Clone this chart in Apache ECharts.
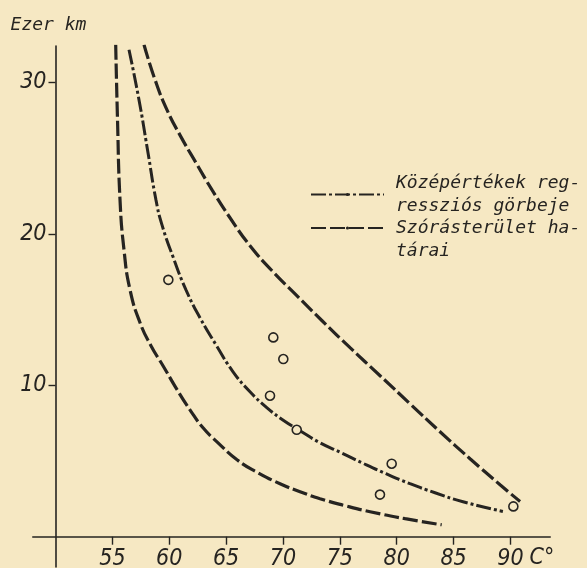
<!DOCTYPE html>
<html>
<head>
<meta charset="utf-8">
<script src="https://cdn.jsdelivr.net/npm/echarts@6/dist/echarts.min.js"></script>
<style>
  html, body { margin: 0; padding: 0; background: #f6e8c3; }
  #chart { width: 587px; height: 568px; }
</style>
</head>
<body>
<div id="chart"></div>
<script>
// ---- data (x: °C, y: thousand km) ----
const xTicks = [55, 60, 65, 70, 75, 80, 85, 90];
const yTicks = [10, 20, 30];

const lowerBound = [
  [55.29, 32.48], [55.45, 27.52], [55.67, 22.24], [56.02, 18.94], [56.55, 16.30],
  [57.43, 14.13], [58.39, 12.61], [59.45, 11.29], [60.59, 9.83], [61.82, 8.38],
  [62.97, 7.19], [64.29, 6.20], [65.96, 5.08], [67.81, 4.22], [69.74, 3.50],
  [71.50, 2.97], [73.26, 2.51], [75.46, 2.05], [77.66, 1.65], [80.74, 1.19],
  [83.96, 0.79]
];

const meanCurve = [
  [56.46, 32.15], [57.34, 28.84], [58.09, 25.54], [58.83, 22.24], [59.36, 20.59],
  [60.33, 18.48], [61.47, 16.30], [62.70, 14.46], [64.11, 12.67], [65.61, 10.89],
  [67.10, 9.57], [68.60, 8.51], [70.09, 7.66], [71.50, 7.00], [73.26, 6.20],
  [75.02, 5.58], [76.95, 4.88], [79.06, 4.16], [81.17, 3.50], [83.37, 2.90],
  [85.83, 2.31], [89.34, 1.67]
];

const upperBound = [
  [57.78, 32.48], [58.75, 30.17], [59.80, 28.18], [61.03, 26.40], [62.35, 24.69],
  [63.76, 22.90], [65.34, 21.06], [67.10, 19.21], [69.04, 17.56], [71.15, 15.97],
  [73.44, 14.26], [75.90, 12.48], [78.54, 10.63], [81.17, 8.78], [83.81, 6.93],
  [86.45, 5.15], [89.09, 3.43], [90.85, 2.33]
];

const observations = [
  [56.40, 32.48], [59.92, 16.96], [69.15, 13.16], [70.03, 11.73], [68.86, 9.31],
  [71.21, 7.06], [79.56, 4.82], [78.53, 2.78], [90.26, 2.0]
];

const meanName = 'Középértékek reg-\nressziós görbeje';
const boundName = 'Szórásterület ha-\ntárai';

// ---- styling ----
const ink = '#262421';
const paper = '#f6e8c3';
const digitFont = "'Liberation Sans Narrow', 'DejaVu Sans Condensed', 'DejaVu Sans', sans-serif";
const textFont = "'DejaVu Sans Mono', monospace";
const boundDash = [15, 4];
const meanDash = [15, 3, 3, 3];

const chart = echarts.init(document.getElementById('chart'), null, { renderer: 'canvas' });

chart.setOption({
  backgroundColor: paper,
  animation: false,
  grid: { left: 32.8, right: 36.8, top: 46, bottom: 1, containLabel: false, outerBoundsMode: 'none' },
  legend: {
    orient: 'vertical',
    left: 310,
    top: 171.5,
    padding: 0,
    itemWidth: 73,
    itemHeight: 4,
    itemGap: -24,
    selectedMode: false,
    inactiveColor: ink,
    formatter: function (name) { return name === boundName ? '\n' + name : name; },
    textStyle: {
      color: ink, fontFamily: textFont, fontStyle: 'italic', fontSize: 18,
      lineHeight: 23, padding: [0, 0, 0, 7]
    },
    data: [meanName, boundName]
  },
  xAxis: {
    type: 'value',
    min: 48,
    max: 93.5,
    name: 'C°',
    nameLocation: 'end',
    nameGap: 0,
    nameTextStyle: {
      color: ink, fontFamily: digitFont, fontStyle: 'italic', fontSize: 23,
      align: 'right', verticalAlign: 'top', padding: [10, 0, 0, 0]
    },
    axisLine: { onZero: true, lineStyle: { color: ink, width: 1.6 } },
    axisTick: { show: true, customValues: xTicks, length: 8, inside: false,
      lineStyle: { color: ink, width: 1.4 } },
    axisLabel: { customValues: xTicks, color: ink, fontFamily: digitFont,
      fontStyle: 'italic', fontSize: 23, margin: -19 },
    splitLine: { show: false }
  },
  yAxis: {
    type: 'value',
    min: -2,
    max: 32.4,
    offset: -22.7,
    name: 'Ezer km',
    nameLocation: 'end',
    nameGap: 12,
    nameTextStyle: {
      color: ink, fontFamily: textFont, fontStyle: 'italic', fontSize: 18,
      align: 'center', padding: [0, 14, 0, 0]
    },
    axisLine: { show: true, lineStyle: { color: ink, width: 1.6 } },
    axisTick: { show: true, customValues: yTicks, length: 7, inside: false,
      lineStyle: { color: ink, width: 1.4 } },
    axisLabel: { customValues: yTicks, color: ink, fontFamily: digitFont,
      fontStyle: 'italic', fontSize: 23, margin: 9 },
    splitLine: { show: false }
  },
  series: [
    {
      name: boundName, type: 'line', data: lowerBound, smooth: 0.5,
      symbol: 'none', lineStyle: { color: ink, width: 3.2, type: boundDash },
      itemStyle: { color: ink }
    },
    {
      name: meanName, type: 'line', data: meanCurve, smooth: 0.5,
      symbol: 'none', lineStyle: { color: ink, width: 3, type: meanDash },
      itemStyle: { color: ink }
    },
    {
      name: boundName, type: 'line', data: upperBound, smooth: 0.5,
      symbol: 'none', lineStyle: { color: ink, width: 3.2, type: boundDash },
      itemStyle: { color: ink }
    },
    {
      name: 'Mérések', type: 'scatter', data: observations, symbol: 'circle',
      symbolSize: 9, z: 5,
      itemStyle: { color: paper, borderColor: ink, borderWidth: 1.6, opacity: 1 }
    }
  ]
});
</script>
</body>
</html>
